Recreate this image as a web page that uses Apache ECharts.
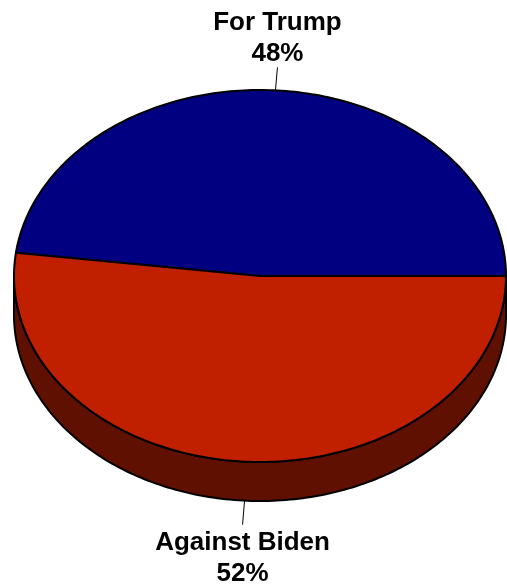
<!DOCTYPE html>
<html><head><meta charset="utf-8">
<script src="https://cdn.jsdelivr.net/npm/echarts@6/dist/echarts.min.js"></script>
<style>html,body{margin:0;padding:0;background:#fff}#c{width:507px;height:588px}</style>
</head><body><div id="c"></div>
<script>
const categories = ['For Trump', 'Against Biden'];
const values = [48, 52];
const topColors = ['#000080', '#C02000'];
const sideColors = ['#000040', '#601000'];

const CX = 260, CY = 276, RX = 246, RY = 186, DEPTH = 39;
const total = values.reduce((a, b) => a + b, 0);

function pt(deg, dy) {
  const r = deg * Math.PI / 180;
  return [CX + RX * Math.cos(r), CY - RY * Math.sin(r) + (dy || 0)];
}
function arc(a0, a1, dy) {
  const pts = [];
  const n = Math.max(2, Math.ceil(Math.abs(a1 - a0)));
  for (let k = 0; k <= n; k++) pts.push(pt(a0 + (a1 - a0) * k / n, dy));
  return pts;
}

function renderItem(params, api) {
  const i = params.dataIndex;
  const v = api.value(0);
  let before = 0;
  for (let k = 0; k < i; k++) before += values[k];
  const a0 = before / total * 360;
  const a1 = (before + v) / total * 360;
  const children = [];
  // front side wall (visible for angles 180..360)
  const s0 = Math.max(a0, 180), s1 = Math.min(a1, 360);
  if (s1 > s0) {
    const topEdge = arc(s0, s1, 0);
    const botEdge = arc(s1, s0, DEPTH);
    children.push({
      type: 'polygon',
      shape: { points: topEdge.concat(botEdge) },
      style: { fill: sideColors[i], stroke: '#000', lineWidth: 2 }
    });
  }
  // top face
  children.push({
    type: 'polygon',
    shape: { points: [[CX, CY]].concat(arc(a0, a1, 0)) },
    style: { fill: topColors[i], stroke: '#000', lineWidth: 2, lineJoin: 'round' }
  });
  // label
  const mid = (a0 + a1) / 2;
  const up = Math.sin(mid * Math.PI / 180) > 0;
  const p = pt(mid, up ? 0 : DEPTH);
  const q = [p[0] - (up ? -2 : 2), p[1] + (up ? -23 : 24)];
  children.push({
    type: 'polyline',
    shape: { points: [p, q] },
    style: { stroke: '#000', lineWidth: 1, fill: null }
  });
  const pct = Math.round(v / total * 100) + '%';
  children.push({
    type: 'text',
    style: {
      text: categories[i] + '\n' + pct,
      x: q[0], y: up ? q[1] + 2 : q[1] + 3,
      align: 'center',
      verticalAlign: up ? 'bottom' : 'top',
      fontFamily: '"Liberation Sans", Arial, sans-serif',
      fontWeight: 'bold',
      fontSize: 26,
      lineHeight: 31,
      fill: '#000'
    }
  });
  return { type: 'group', children };
}

const chart = echarts.init(document.getElementById('c'), null, { renderer: 'canvas' });
chart.setOption({
  backgroundColor: '#fff',
  animation: false,
  series: [{
    type: 'custom',
    coordinateSystem: 'none',
    renderItem,
    data: categories.map((c, i) => ({ name: c, value: values[i] }))
  }]
});
</script></body></html>
